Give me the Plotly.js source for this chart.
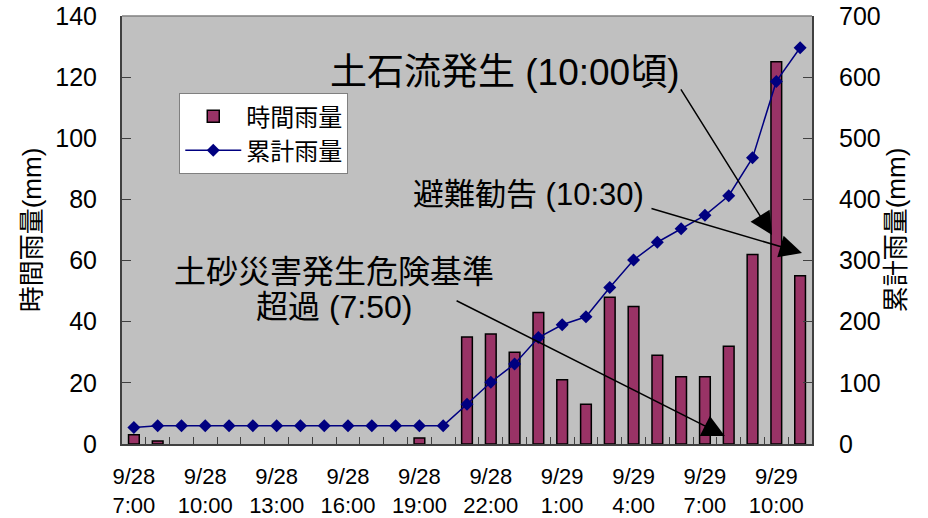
<!DOCTYPE html>
<html>
<head>
<meta charset="utf-8">
<script src="https://cdn.plot.ly/plotly-3.0.1.min.js"></script>
<style>html,body{margin:0;padding:0;background:#fff;}#chart{width:928px;height:518px;}</style>
</head>
<body>
<div id="chart"></div>
<script>
// Hourly categories: 9/28 7:00 .. 9/29 11:00
const categories = [
  "9/28 7:00","9/28 8:00","9/28 9:00","9/28 10:00","9/28 11:00","9/28 12:00","9/28 13:00",
  "9/28 14:00","9/28 15:00","9/28 16:00","9/28 17:00","9/28 18:00","9/28 19:00","9/28 20:00",
  "9/28 21:00","9/28 22:00","9/28 23:00","9/29 0:00","9/29 1:00","9/29 2:00","9/29 3:00",
  "9/29 4:00","9/29 5:00","9/29 6:00","9/29 7:00","9/29 8:00","9/29 9:00","9/29 10:00","9/29 11:00"
];
const hourlyRain = [3,1,0,0,0,0,0,0,0,0,0,0,2,0,35,36,30,43,21,13,48,45,29,22,22,32,62,125,55];
const cumulativeRain = [27,30,30,30,30,30,30,30,30,30,30,30,30,30,65,101,131,174,195,208,256,301,330,352,374,406,468,593,648];
const tickCategories = ["9/28 7:00","9/28 10:00","9/28 13:00","9/28 16:00","9/28 19:00","9/28 22:00","9/29 1:00","9/29 4:00","9/29 7:00","9/29 10:00"];
const tickLabels = ["9/28<br>7:00","9/28<br>10:00","9/28<br>13:00","9/28<br>16:00","9/28<br>19:00","9/28<br>22:00","9/29<br>1:00","9/29<br>4:00","9/29<br>7:00","9/29<br>10:00"];

const idx = categories.map((c, i) => i);
const tickIdx = tickCategories.map(c => categories.indexOf(c));

const FONT = 'Liberation Sans, Arial, "Noto Sans CJK JP", sans-serif';

const traces = [
  {
    type: 'bar', name: '時間雨量', x: idx, y: hourlyRain, yaxis: 'y',
    marker: {color: '#993366', line: {color: '#000000', width: hourlyRain.map(v => v > 0 ? 1.5 : 0)}},
    hoverinfo: 'skip'
  },
  {
    type: 'scatter', mode: 'lines+markers', name: '累計雨量', x: idx, y: cumulativeRain, yaxis: 'y2',
    line: {color: '#000080', width: 1.5},
    marker: {symbol: 'diamond', size: 10, color: '#000080'},
    hoverinfo: 'skip'
  }
];

const arrow = (tx, ty, hx, hy) => ({
  x: hx, y: hy, xref: 'x', yref: 'y', ax: tx, ay: ty, axref: 'x', ayref: 'y',
  text: '', showarrow: true, arrowhead: 2, arrowsize: 3, arrowwidth: 1.5, arrowcolor: '#000000', standoff: 0
});

const layout = {
  width: 928, height: 518,
  margin: {l: 122, r: 116, t: 16, b: 74, pad: 0},
  paper_bgcolor: '#ffffff', plot_bgcolor: '#c0c0c0',
  font: {family: FONT, color: '#000000', size: 24},
  bargap: 0.55,
  showlegend: true,
  legend: {
    x: 0.083, y: 0.82, xanchor: 'left', yanchor: 'top',
    bgcolor: '#ffffff', bordercolor: '#808080', borderwidth: 1,
    font: {family: FONT, size: 24, color: '#000000'},
    itemwidth: 56, tracegroupgap: 0
  },
  xaxis: {
    range: [-0.5, 28.5], tickmode: 'array', tickvals: tickIdx, ticktext: tickLabels,
    ticks: 'inside', ticklen: 0, showgrid: false, zeroline: false,
    showline: true, linecolor: '#404040', linewidth: 2,
    tickfont: {family: FONT, size: 22, color: '#000000'},
    ticklabelstandoff: 12,
    minor: {tick0: 0.5, dtick: 1, ticks: 'inside', ticklen: 7, tickcolor: '#404040', tickwidth: 1, showgrid: false}
  },
  yaxis: {
    range: [0, 140], dtick: 20, ticks: 'inside', ticklen: 9, tickcolor: '#404040', tickwidth: 1,
    showgrid: false, zeroline: false, showline: true, linecolor: '#404040', linewidth: 2,
    tickfont: {family: FONT, size: 25, color: '#000000'}, ticklabelstandoff: 18,
    title: {text: '時間雨量(mm)', font: {family: FONT, size: 26, color: '#000000'}, standoff: 6}
  },
  yaxis2: {
    range: [0, 700], dtick: 100, overlaying: 'y', side: 'right', ticks: 'inside', ticklen: 9,
    tickcolor: '#404040', tickwidth: 1, showgrid: false, zeroline: false,
    showline: true, linecolor: '#404040', linewidth: 2,
    tickfont: {family: FONT, size: 25, color: '#000000'}, ticklabelstandoff: 20,
    title: {text: '累計雨量(mm)', font: {family: FONT, size: 26, color: '#000000'}, standoff: 4}
  },
  shapes: [
    {type: 'line', xref: 'paper', yref: 'paper', x0: 0, x1: 1, y0: 1, y1: 1, line: {color: '#808080', width: 1.5}}
  ],
  annotations: [
    {x: 15.6, y: 121.4, xref: 'x', yref: 'y', text: '土石流発生 (10:00頃)', showarrow: false,
     font: {family: FONT, size: 37, color: '#000000'}},
    {x: 16.6, y: 81.5, xref: 'x', yref: 'y', text: '避難勧告 (10:30)', showarrow: false,
     font: {family: FONT, size: 31, color: '#000000'}},
    {x: 8.43, y: 56.3, xref: 'x', yref: 'y', text: '土砂災害発生危険基準', showarrow: false,
     font: {family: FONT, size: 32, color: '#000000'}},
    {x: 8.43, y: 44.8, xref: 'x', yref: 'y', text: '超過 (7:50)', showarrow: false,
     font: {family: FONT, size: 32, color: '#000000'}},
    arrow(22.95, 116.5, 26.82, 68.4),
    arrow(21.69, 77.2, 28.08, 62.5),
    arrow(13.5, 47.1, 24.84, 2.6)
  ]
};

Plotly.newPlot('chart', traces, layout, {displayModeBar: false, staticPlot: true});
</script>
</body>
</html>
